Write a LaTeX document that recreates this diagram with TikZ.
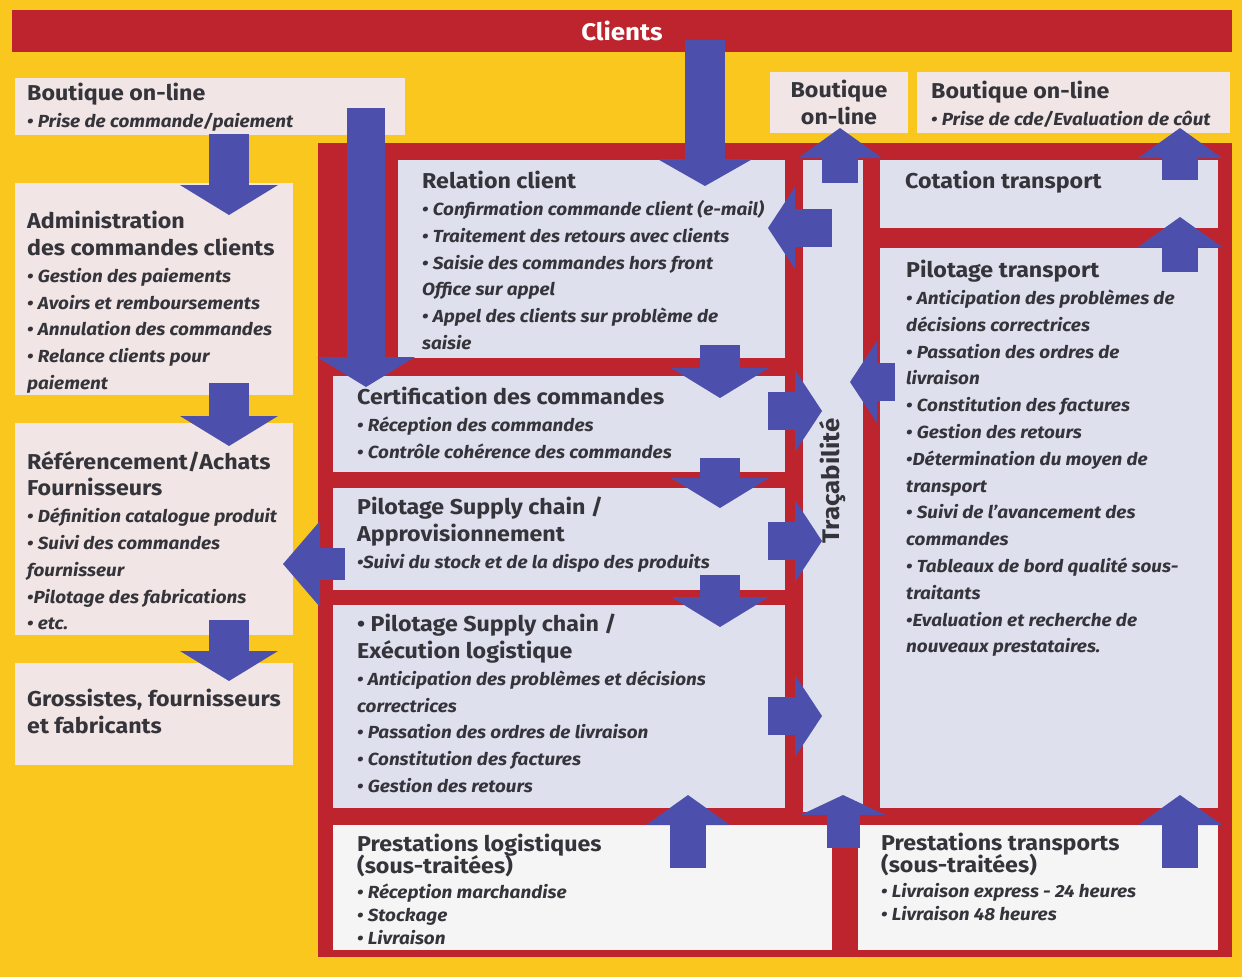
\documentclass[tikz,border=0pt]{standalone}
\usepackage{fontspec}
\usepackage{graphicx}
\setmainfont{Fira Sans}[FakeStretch=1.08]
\usetikzlibrary{arrows.meta,positioning}

\definecolor{gold}{RGB}{249,199,30}
\definecolor{crimson}{RGB}{190,36,46}
\definecolor{blush}{RGB}{241,229,229}
\definecolor{lilac}{RGB}{222,224,238}
\definecolor{chalk}{RGB}{245,245,245}
\definecolor{slate}{RGB}{76,80,172}
\definecolor{ink}{RGB}{52,52,58}

\newcommand\hd[1]{{\fontsize{21.5}{26.8}\selectfont\upshape #1}}

\tikzset{
  pane/.style={fill=#1, inner sep=0pt, outer sep=0pt, anchor=north west},
  txt/.style={anchor=north west, inner sep=0pt, align=left, text=ink,
    font=\fontsize{17.5}{26.8}\selectfont\bfseries\itshape},
  flow/.style={draw=slate, line width=40pt, -{Triangle[length=30pt,width=98pt,line width=0pt]}},
  slim flow/.style={draw=slate, line width=36pt, -{Triangle[length=30pt,width=84pt,line width=0pt]}},
  side flow/.style={draw=slate, line width=38pt, -{Triangle[length=27pt,width=82pt,line width=0pt]}},
}

\begin{document}
\begin{tikzpicture}[x=1pt,y=-1pt]
			%%%%% START %%%%%
			
			\fill[gold] (0,0) rectangle (1242,977);
			
			\node[pane=crimson, minimum width=1220pt, minimum height=42pt] (cli) at (12,10) {};
			\node[text=white, font=\fontsize{24}{26}\selectfont\bfseries] (cli-t) at (cli.center) {Clients};
			
			% left column
			\node[pane=blush, minimum width=390pt, minimum height=57pt] (bout) at (15,78) {};
			\node[pane=blush, minimum width=278pt, minimum height=212pt] (admin) at (15,183) {};
			\node[pane=blush, minimum width=278pt, minimum height=212pt] (refe) at (15,423) {};
			\node[pane=blush, minimum width=278pt, minimum height=102pt] (gross) at (15,663) {};
			
			% top right
			\node[pane=blush, minimum width=138pt, minimum height=61pt] (shop) at (770,72) {};
			\node[pane=blush, minimum width=313pt, minimum height=61pt] (quote) at (917,72) {};
			
			% red frame and its panes
			\node[pane=crimson, minimum width=914pt, minimum height=814pt] (frame) at (318,143) {};
			\node[pane=lilac, minimum width=387pt, minimum height=198pt] (relc) at (398,160) {};
			\node[pane=lilac, minimum width=452pt, minimum height=96pt] (cert) at (333,376) {};
			\node[pane=lilac, minimum width=452pt, minimum height=102pt] (appro) at (333,488) {};
			\node[pane=lilac, minimum width=452pt, minimum height=203pt] (exec) at (333,605) {};
			\node[pane=lilac, minimum width=60pt, minimum height=652pt] (trac) at (803,160) {};
			\node[pane=lilac, minimum width=338pt, minimum height=68pt] (cota) at (880,160) {};
			\node[pane=lilac, minimum width=338pt, minimum height=560pt] (pilt) at (880,248) {};
			\node[pane=chalk, minimum width=499pt, minimum height=125pt] (prlog) at (333,825) {};
			\node[pane=chalk, minimum width=360pt, minimum height=125pt] (prtr) at (858,825) {};
			
			%%%%% ARROWS %%%%%
			
			\draw[flow, -{Triangle[length=27pt,width=95pt,line width=0pt]}] ([shift={(693,-12)}]cli.south west) -- ([shift={(307,26)}]relc.north west);
			
			\draw[flow] ([shift={(214,-1)}]bout.south west) -- ([shift={(214,32)}]admin.north west);
			\draw[flow] ([shift={(214,-12)}]admin.south west) -- ([shift={(214,23)}]refe.north west);
			\draw[flow] ([shift={(214,-15)}]refe.south west) -- ([shift={(214,18)}]gross.north west);
			\draw[flow, line width=38pt] ([shift={(351,30)}]bout.north west) -- ([shift={(33,11)}]cert.north west);
			\draw[flow, line width=32pt, -{Triangle[length=37pt,width=86pt,line width=0pt]}] ([shift={(12,25)}]appro.west) -- ([shift={(-10,35)}]refe.east);
			
			\draw[flow] ([shift={(322,-13)}]relc.south west) -- ([shift={(387,22)}]cert.north west);
			\draw[flow] ([shift={(387,-14)}]cert.south west) -- ([shift={(387,20)}]appro.north west);
			\draw[flow] ([shift={(387,-15)}]appro.south west) -- ([shift={(387,22)}]exec.north west);
			
			\draw[side flow] ([shift={(-17,-13)}]cert.east) -- ([shift={(19,-75)}]trac.west);
			\draw[side flow] ([shift={(-17,2)}]appro.east) -- ([shift={(19,55)}]trac.west);
			\draw[side flow] ([shift={(-17,9.5)}]exec.east) -- ([shift={(19,230)}]trac.west);
			\draw[side flow] ([shift={(29,68)}]trac.north west) -- ([shift={(-17,68)}]relc.north east);
			\draw[side flow] ([shift={(15,134)}]pilt.north west) -- ([shift={(47,222)}]trac.north west);
			
			\draw[slim flow] ([shift={(37,23)}]trac.north west) -- ([shift={(70,-5)}]shop.south west);
			\draw[slim flow] ([shift={(300,20)}]cota.north west) -- ([shift={(263,-5)}]quote.south west);
			\draw[slim flow] ([shift={(300,24)}]pilt.north west) -- ([shift={(300,-11)}]cota.south west);
			
			\draw[slim flow] ([shift={(355,43)}]prlog.north west) -- ([shift={(355,-13)}]exec.south west);
			\draw[slim flow, line width=33pt, -{Triangle[length=20pt,width=85pt,line width=0pt]}] ([shift={(40,36)}]trac.south west) -- ([shift={(40,-17)}]trac.south west);
			\draw[slim flow] ([shift={(322,43)}]prtr.north west) -- ([shift={(300,-13)}]pilt.south west);
			
			%%%%% TEXT %%%%%
			
			\node[txt] (bout-t) at ([shift={(12,5)}]bout.north west) {\hd{Boutique on-line}\\ • Prise de commande/paiement};
			\node[txt] (admin-t) at ([shift={(12,28)}]admin.north west) {\hd{Administration}\\ \hd{des commandes clients}\\ • Gestion des paiements\\ • Avoirs et remboursements\\ • Annulation des commandes\\ • Relance clients pour\\ paiement};
			\node[txt] (refe-t) at ([shift={(12,28)}]refe.north west) {\hd{Référencement/Achats}\\ \hd{Fournisseurs}\\ • Définition catalogue produit\\ • Suivi des commandes\\ fournisseur\\ •Pilotage des fabrications\\ • etc.};
			\node[txt] (gross-t) at ([shift={(12,26)}]gross.north west) {\hd{Grossistes, fournisseurs}\\ \hd{et fabricants}};
			
			\node[txt, anchor=center, align=center] (shop-t) at (shop.center) {\hd{Boutique}\\ \hd{on-line}};
			\node[txt] (quote-t) at ([shift={(14,9)}]quote.north west) {\hd{Boutique on-line}\\ • Prise de cde/Evaluation de côut};
			
			\node[txt] (relc-t) at ([shift={(24,11)}]relc.north west) {\hd{Relation client}\\ • Confirmation commande client (e-mail)\\ • Traitement des retours avec clients\\ • Saisie des commandes hors front\\ Office sur appel\\ • Appel des clients sur problème de\\ saisie};
			\node[txt] (cert-t) at ([shift={(24,11)}]cert.north west) {\hd{Certification des commandes}\\ • Réception des commandes\\ • Contrôle cohérence des commandes};
			\node[txt] (appro-t) at ([shift={(24,9)}]appro.north west) {\hd{Pilotage Supply chain /}\\ \hd{Approvisionnement}\\ •Suivi du stock et de la dispo des produits};
			\node[txt] (exec-t) at ([shift={(24,9)}]exec.north west) {\hd{• Pilotage Supply chain /}\\ \hd{Exécution logistique}\\ • Anticipation des problèmes et décisions\\ correctrices\\ • Passation des ordres de livraison\\ • Constitution des factures\\ • Gestion des retours};
			
			\node[txt, anchor=center, rotate=90, font=\fontsize{24}{26}\selectfont\bfseries] (trac-t) at ([yshift=5pt]trac.center) {Traçabilité};
			
			\node[txt] (cota-t) at ([shift={(25,11)}]cota.north west) {\hd{Cotation transport}};
			\node[txt] (pilt-t) at ([shift={(26,12)}]pilt.north west) {\hd{Pilotage transport}\\ • Anticipation des problèmes de\\ décisions correctrices\\ • Passation des ordres de\\ livraison\\ • Constitution des factures\\ • Gestion des retours\\ •Détermination du moyen de\\ transport\\ • Suivi de l’avancement des\\ commandes\\ • Tableaux de bord qualité sous-\\ traitants\\ •Evaluation et recherche de\\ nouveaux prestataires.};
			
			\node[txt, font=\fontsize{17.5}{23}\selectfont\bfseries\itshape] (prlog-t) at ([shift={(24,9)}]prlog.north west) {\hd{Prestations logistiques}\\[-2pt] \hd{(sous-traitées)}\\[2pt] • Réception marchandise\\ • Stockage\\ • Livraison};
			\node[txt, font=\fontsize{17.5}{23}\selectfont\bfseries\itshape] (prtr-t) at ([shift={(23,8)}]prtr.north west) {\hd{Prestations transports}\\[-2pt] \hd{(sous-traitées)}\\[2pt] • Livraison express - 24 heures\\ • Livraison 48 heures};
			
			%%%%% END %%%%%
\end{tikzpicture}
\end{document}
